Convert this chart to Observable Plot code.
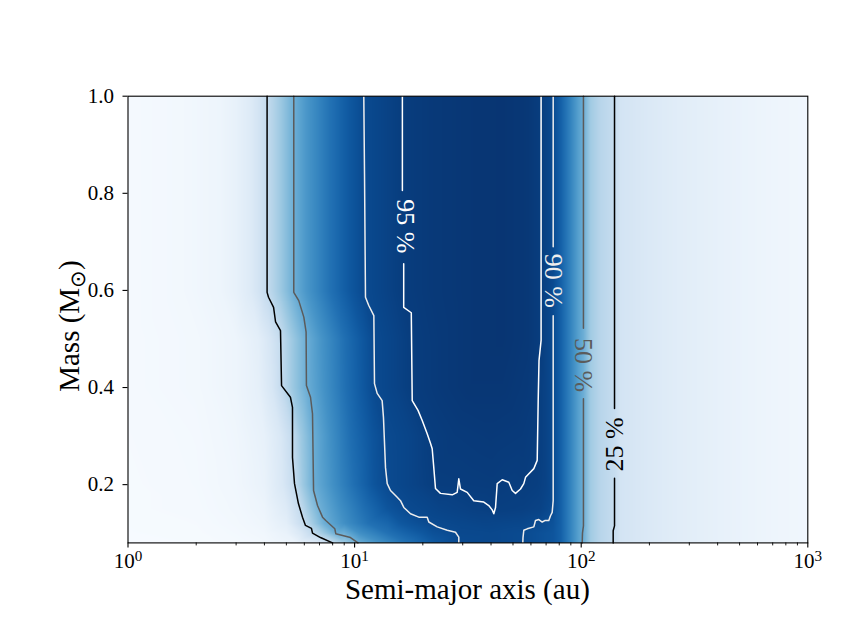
<!DOCTYPE html>
<html><head><meta charset="utf-8">
<script src="https://cdn.jsdelivr.net/npm/d3@7"></script>
<script src="https://cdn.jsdelivr.net/npm/@observablehq/plot@0.6"></script>
<style>html,body{margin:0;padding:0;background:#fff;}</style>
</head><body>
<div id="chart"></div>
<script>
// ---- tick labels ----
const xMajor = [1, 10, 100, 1000];
const xMinor = [2,3,4,5,6,7,8,9,20,30,40,50,60,70,80,90,200,300,400,500,600,700,800,900];
const yTicks = [0.2, 0.4, 0.6, 0.8, 1.0];

// ---- detection-probability map: rows of [semi-major axis (au), probability] ----
const massRows = [1.0, 0.6, 0.5, 0.4, 0.3, 0.2, 0.15, 0.12, 0.1, 0.08];
const profUpper = [[1,0.015],[1.7,0.025],[2.56,0.05],[3.0,0.08],[3.47,0.13],[3.77,0.18],[4.11,0.25],[4.7,0.37],[5.39,0.5],[6.1,0.6],[7.8,0.75],[9.6,0.85],[10.98,0.9],[13.5,0.925],[16.25,0.95],[22,0.965],[32,0.975],[45,0.98],[58,0.97],[66.5,0.95],[75.2,0.9]];
const prof050 = [[1,0.015],[2.0,0.025],[3.0,0.05],[3.77,0.1],[4.2,0.16],[4.73,0.25],[5.3,0.37],[6.12,0.5],[7.2,0.62],[9.1,0.76],[10.9,0.85],[12.2,0.9],[15,0.925],[17.8,0.95],[24,0.965],[32,0.975],[45,0.98],[58,0.97],[66.5,0.95],[75.2,0.9]];
const prof040 = [[1,0.015],[2.0,0.025],[3.0,0.05],[3.77,0.09],[4.3,0.16],[4.76,0.25],[5.3,0.37],[6.13,0.5],[7.3,0.62],[9.2,0.76],[11,0.85],[12.24,0.9],[15,0.925],[17.96,0.95],[24,0.965],[32,0.975],[45,0.975],[58,0.965],[64.6,0.95],[70,0.93],[75.2,0.9]];
const prof030 = [[1,0.012],[2.0,0.02],[3.0,0.04],[4.0,0.08],[4.7,0.15],[5.32,0.25],[5.8,0.37],[6.55,0.5],[7.8,0.63],[9.6,0.76],[12,0.86],[13.6,0.9],[18,0.925],[21.8,0.95],[28,0.96],[40,0.965],[55,0.96],[64.3,0.95],[70,0.93],[75.2,0.9]];
const prof020 = [[1,0.01],[2.0,0.018],[3.0,0.035],[4.0,0.07],[4.8,0.15],[5.43,0.25],[5.9,0.37],[6.58,0.5],[8.0,0.63],[10,0.76],[12.2,0.86],[13.93,0.9],[18,0.925],[22.8,0.95],[30,0.952],[41,0.955],[50,0.95],[56,0.952],[64,0.945],[70,0.93],[75.2,0.9]];
const prof015 = [[1,0.01],[2.0,0.015],[3.0,0.03],[4.0,0.055],[5.0,0.13],[5.76,0.25],[6.3,0.37],[7.07,0.5],[8.6,0.63],[11,0.76],[14,0.86],[16.9,0.9],[24,0.925],[35,0.94],[41,0.945],[55,0.94],[66,0.93],[74.5,0.9]];
const prof012 = [[1,0.008],[2.0,0.012],[3.0,0.025],[4.0,0.045],[5.0,0.1],[6.0,0.25],[6.6,0.37],[7.36,0.5],[9,0.63],[11.5,0.75],[16,0.85],[21.2,0.9],[30,0.915],[42,0.92],[55,0.915],[66,0.9],[75.2,0.87]];
const prof010 = [[1,0.007],[2.0,0.01],[3.0,0.02],[4.0,0.035],[5.0,0.07],[5.8,0.15],[6.52,0.25],[7.3,0.37],[8.26,0.5],[10.5,0.63],[14,0.75],[20,0.85],[27.9,0.9],[40,0.91],[55.8,0.9],[65,0.88],[75.2,0.86]];
const prof008 = [[1,0.005],[2.0,0.008],[3.0,0.015],[4.0,0.025],[5.5,0.06],[7.0,0.15],[7.99,0.25],[9.0,0.37],[10.35,0.5],[13,0.63],[17,0.75],[23,0.85],[28.8,0.9],[40,0.91],[55.25,0.9],[65,0.88],[75.2,0.86]];
const profTail = [[81,0.82],[89.7,0.68],[97.3,0.56],[102.3,0.5],[110,0.36],[121.6,0.29],[140.3,0.24],[149,0.18],[202,0.14],[274,0.11],[412,0.08],[618,0.055],[1000,0.035]];
const rowProfiles = [profUpper, profUpper, prof050, prof040, prof030, prof020, prof015, prof012, prof010, prof008];

// ---- contour lines: [a (au), mass (Msun)] ----
const c25L = [[4.11,1.0],[4.11,0.596],[4.17,0.586],[4.39,0.565],[4.48,0.535],[4.71,0.517],[4.76,0.404],[5.21,0.380],[5.32,0.359],[5.32,0.256],[5.43,0.202],[5.65,0.161],[5.89,0.133],[6.07,0.116],[6.45,0.110],[6.52,0.100],[7.07,0.091],[7.99,0.080]];
const c25Rtop = [[140.3,1.0],[140.3,0.357]];
const c25Rbot = [[140.3,0.213],[140.3,0.115],[138.4,0.105],[138.4,0.08]];
const c50L = [[5.39,1.0],[5.39,0.596],[5.67,0.579],[5.97,0.545],[6.11,0.514],[6.13,0.404],[6.39,0.380],[6.52,0.346],[6.59,0.188],[6.86,0.157],[7.22,0.133],[7.46,0.126],[8.18,0.109],[8.26,0.099],[9.59,0.091],[10.35,0.080]];
const c50Rtop = [[102.3,1.0],[102.3,0.522]];
const c50Rbot = [[102.3,0.377],[102.3,0.115],[101.3,0.1],[101.0,0.08]];
const c90L = [[10.98,1.0],[11.06,0.841],[11.17,0.586],[11.55,0.569],[12.16,0.548],[12.24,0.408],[12.58,0.388],[13.23,0.373],[13.41,0.338],[13.69,0.235],[13.93,0.202],[14.40,0.188],[15.42,0.174],[15.94,0.167],[16.49,0.153],[17.65,0.140],[19.20,0.133],[20.91,0.133],[21.26,0.123],[23.15,0.113],[25.63,0.106],[27.88,0.102],[28.83,0.092],[28.83,0.080]];
const c90Rbot = [[55.25,0.080],[55.36,0.091],[55.81,0.106],[57.78,0.109],[61.79,0.113],[62.85,0.126],[65.01,0.128],[67.29,0.123],[69.10,0.126],[71.95,0.126],[73.21,0.136],[74.47,0.143],[75.23,0.167],[75.23,0.548]];
const c90Rtop = [[75.23,0.690],[75.23,1.0]];
const c95top = [[16.25,1.0],[16.25,0.806]];
const c95main = [[16.47,0.655],[16.47,0.565],[17.79,0.554],[17.96,0.373],[19.05,0.353],[19.88,0.332],[20.91,0.305],[21.62,0.285],[22.00,0.274],[22.36,0.235],[22.75,0.192],[23.93,0.182],[26.96,0.179],[28.36,0.184],[28.83,0.212],[29.33,0.191],[31.40,0.184],[33.57,0.167],[37.17,0.164],[39.10,0.157],[40.48,0.148],[41.15,0.140],[41.87,0.153],[42.59,0.202],[44.82,0.210],[47.92,0.205],[49.61,0.188],[51.30,0.182],[53.97,0.191],[55.81,0.202],[56.79,0.215],[61.79,0.233],[63.95,0.250],[64.60,0.373],[65.14,0.456],[66.53,0.497],[66.53,1.0]];

// ---- contour labels ----
const labelText = ["25 %", "50 %", "90 %", "95 %"];
const labelA = [140.3, 102.3, 75.23, 16.8];
const labelM = [0.283, 0.446, 0.620, 0.732];
const labelRot = [-90, 90, 90, 90];
const levelColors = ["#000000", "#5b5b5b", "#ededed", "#ffffff"];

// ---- build tables ----
const heat = [];
massRows.forEach((m, i) => {
  rowProfiles[i].concat(profTail).forEach(([a, p]) => heat.push({a, m, p}));
});
function seg(arr, id) { return arr.map(([a, m]) => ({a, m, id})); }
const lines = [
  {color: levelColors[0], segs: [c25L, c25Rtop, c25Rbot]},
  {color: levelColors[1], segs: [c50L, c50Rtop, c50Rbot]},
  {color: levelColors[2], segs: [c90L, c90Rbot, c90Rtop]},
  {color: levelColors[3], segs: [c95top, c95main]}
];
const labels = labelText.map((t, i) => ({t, a: labelA[i], m: labelM[i], r: labelRot[i], c: levelColors[i]}));

const FONT = "Liberation Serif, serif";

const marks = [
  Plot.raster(heat, {x: "a", y: "m", fill: "p", interpolate: "barycentric",
    x1: 1, x2: 1000, y1: 0.08, y2: 1.0, pixelSize: 1})
];
lines.forEach(L => {
  L.segs.forEach((s, k) => {
    marks.push(Plot.line(seg(s, k), {x: "a", y: "m", stroke: L.color, strokeWidth: 1.5}));
  });
});
labels.forEach(d => {
  marks.push(Plot.text([d], {x: "a", y: "m", text: "t", rotate: d.r, fill: d.c, fontSize: 26}));
});
marks.push(
  Plot.frame({stroke: "black", strokeWidth: 1.1}),
  Plot.axisY(yTicks, {tickSize: 5, tickPadding: 9, fontSize: 21, strokeWidth: 1.1,
    tickFormat: d => d.toFixed(1), label: null}),
  Plot.axisX(xMajor, {tickSize: 5, tickPadding: 5, fontSize: 21, strokeWidth: 1.1,
    tickFormat: d => "10^" + Math.round(Math.log10(d)), label: null}),
  Plot.axisX(xMinor, {tickSize: 3, strokeWidth: 0.9, tickFormat: () => "", label: null})
);

const chart = Plot.plot({
  width: 850, height: 638,
  marginLeft: 127.5, marginRight: 42.7, marginTop: 95.7, marginBottom: 95.6,
  style: {fontFamily: FONT, fontSize: "21px", background: "#fff", color: "#000"},
  x: {type: "log", domain: [1, 1000]},
  y: {domain: [0.08, 1.0]},
  color: {type: "linear", scheme: "blues", domain: [0, 1]},
  marks
});

// superscript exponents on x tick labels
d3.select(chart).selectAll("text").each(function() {
  const m = /^10\^(\d)$/.exec(this.textContent);
  if (m) {
    const s = d3.select(this);
    s.text("10");
    s.append("tspan").attr("dy", "-0.42em").attr("font-size", "0.72em").text(m[1]);
  }
});
d3.select(chart).selectAll("text").attr("font-family", FONT);

// axis titles
const svg = d3.select(chart);
svg.append("text").attr("x", 467.4).attr("y", 599).attr("text-anchor", "middle")
  .attr("font-family", FONT).attr("font-size", 29).attr("fill", "#000")
  .text("Semi-major axis (au)");
const yt = svg.append("text").attr("transform", "translate(79,326) rotate(-90)")
  .attr("text-anchor", "middle").attr("font-family", FONT).attr("font-size", 29).attr("fill", "#000");
yt.append("tspan").text("Mass (M");
yt.append("tspan").attr("font-size", 21).attr("dy", 6).text("\u2299");
yt.append("tspan").attr("dy", -6).text(")");

document.getElementById("chart").appendChild(chart);
</script>
</body></html>
